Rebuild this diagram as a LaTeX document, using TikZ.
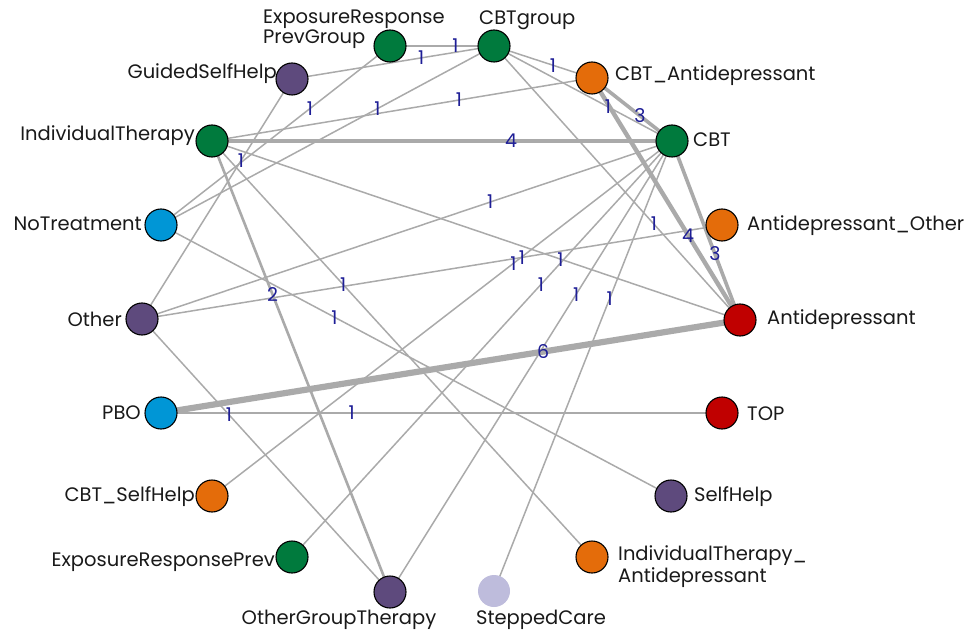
\documentclass[tikz,border=0pt]{standalone}
\usepackage{fontspec}
\setmainfont{Poppins}
\usetikzlibrary{calc,backgrounds}

\definecolor{trtgreen}{RGB}{0,122,61}
\definecolor{trtorange}{RGB}{228,108,10}
\definecolor{trtblue}{RGB}{0,150,214}
\definecolor{trtpurple}{RGB}{94,74,125}
\definecolor{trtred}{RGB}{192,0,0}
\definecolor{trtlilac}{RGB}{190,188,220}
\definecolor{linkgray}{RGB}{170,170,170}
\definecolor{countblue}{RGB}{30,30,150}
\definecolor{nametext}{RGB}{25,25,25}

\newcommand{\namesize}{\fontsize{19.5}{20}\selectfont}
\newcommand{\cntsize}{\fontsize{19}{20}\selectfont}

\begin{document}
\begin{tikzpicture}[x=1pt,y=-1pt,
  trt/.style={circle,draw=black,line width=1.1pt,minimum size=32pt,inner sep=0pt},
  link/.style={draw=linkgray,line width=1.5pt},
  w2/.style={line width=2.6pt},
  w3/.style={line width=3.6pt},
  w4/.style={line width=4.4pt},
  w6/.style={line width=6.2pt},
  cnt/.style={text=countblue,font=\cntsize,inner sep=0pt},
  tname/.style={text=nametext,font=\namesize,inner sep=0pt}]
\useasboundingbox (0,0) rectangle (968,636);

% treatments
\node[trt,fill=trtgreen]  (ERPG)  at (390,46)  {};
\node[trt,fill=trtgreen]  (CBTg)  at (494,46)  {};
\node[trt,fill=trtorange] (CBTA)  at (592,78)  {};
\node[trt,fill=trtgreen]  (CBT)   at (672,141) {};
\node[trt,fill=trtorange] (AO)    at (722,225) {};
\node[trt,fill=trtred]    (AD)    at (740,320) {};
\node[trt,fill=trtred]    (TOP)   at (722,413) {};
\node[trt,fill=trtpurple] (SH)    at (671,496) {};
\node[trt,fill=trtorange] (ITA)   at (592,557) {};
\node[trt,fill=trtlilac,draw=none] (SC) at (494,591) {};
\node[trt,fill=trtpurple] (OGT)   at (390,592) {};
\node[trt,fill=trtgreen]  (ERP)   at (292,557) {};
\node[trt,fill=trtorange] (CBTSH) at (212,496) {};
\node[trt,fill=trtblue]   (PBO)   at (161,413) {};
\node[trt,fill=trtpurple] (Other) at (142,319) {};
\node[trt,fill=trtblue]   (NT)    at (161,225) {};
\node[trt,fill=trtgreen]  (IT)    at (212,141) {};
\node[trt,fill=trtpurple] (GSH)   at (292,79)  {};

% comparisons
\begin{pgfonlayer}{background}
\draw[link] (ERPG.center) -- (CBTg.center);
\draw[link] (GSH.center) -- (CBTg.center);
\draw[link] (ERPG.center) -- (NT.center);
\draw[link] (CBTg.center) -- (NT.center);
\draw[link] (GSH.center) -- (Other.center);
\draw[link] (CBTA.center) -- (IT.center);
\draw[link,w4] (IT.center) -- (CBT.center);
\draw[link] (CBTg.center) -- (CBTA.center);
\draw[link] (CBTg.center) -- (CBT.center);
\draw[link] (CBTg.center) -- (AD.center);
\draw[link,w3] (CBTA.center) -- (CBT.center);
\draw[link,w4] (CBTA.center) -- (AD.center);
\draw[link,w3] (CBT.center) -- (AD.center);
\draw[link] (Other.center) -- (AO.center);
\draw[link] (IT.center) -- (AD.center);
\draw[link] (Other.center) -- (CBT.center);
\draw[link] (IT.center) -- (ITA.center);
\draw[link] (NT.center) -- (SH.center);
\draw[link,w2] (IT.center) -- (OGT.center);
\draw[link] (CBT.center) -- (CBTSH.center);
\draw[link] (CBT.center) -- (ERP.center);
\draw[link] (CBT.center) -- (OGT.center);
\draw[link] (CBT.center) -- (SC.center);
\draw[link,w6] (PBO.center) -- (AD.center);
\draw[link] (PBO.center) -- (TOP.center);
\draw[link] (Other.center) -- (OGT.center);
\end{pgfonlayer}

% number of studies per comparison
\node[cnt] (n1)  at ($(ERPG)!0.63!(CBTg)$) {1};
\node[cnt] (n2)  at ($(GSH)!0.64!(CBTg)$) {1};
\node[cnt] (n3)  at ($(ERPG)!0.35!(NT)$) {1};
\node[cnt] (n4)  at ($(CBTg)!0.35!(NT)$) {1};
\node[cnt] (n5)  at ($(GSH)!0.34!(Other)$) {1};
\node[cnt] (n6)  at ($(CBTA)!0.35!(IT)$) {1};
\node[cnt] (n7)  at ($(IT)!0.65!(CBT)$) {4};
\node[cnt] (n8)  at ($(CBTg)!0.6!(CBTA)$) {1};
\node[cnt] (n9)  at ($(CBTg)!0.64!(CBT)$) {1};
\node[cnt] (n10) at ($(CBTg)!0.65!(AD)$) {1};
\node[cnt] (n11) at ($(CBTA)!0.6!(CBT)$) {3};
\node[cnt] (n12) at ($(CBTA)!0.65!(AD)$) {4};
\node[cnt] (n13) at ($(CBT)!0.63!(AD)$) {3};
\node[cnt] (n14) at ($(Other)!0.655!(AO)$) {1};
\node[cnt] (n15) at ($(IT)!0.66!(AD)$) {1};
\node[cnt] (n16) at ($(Other)!0.657!(CBT)$) {1};
\node[cnt] (n17) at ($(IT)!0.345!(ITA)$) {1};
\node[cnt] (n18) at ($(NT)!0.34!(SH)$) {1};
\node[cnt] (n19) at ($(IT)!0.34!(OGT)$) {2};
\node[cnt] (n20) at ($(CBT)!0.345!(CBTSH)$) {1};
\node[cnt] (n21) at ($(CBT)!0.345!(ERP)$) {1};
\node[cnt] (n22) at ($(CBT)!0.34!(OGT)$) {1};
\node[cnt] (n23) at ($(CBT)!0.35!(SC)$) {1};
\node[cnt] (n24) at ($(PBO)!0.66!(AD)$) {6};
\node[cnt] (n25) at ($(PBO)!0.34!(TOP)$) {1};
\node[cnt] (n26) at ($(Other)!0.35!(OGT)$) {1};

% treatment names
\node[tname,anchor=north west,align=left] (tERPG) at (263,10) {ExposureResponse\\PrevGroup};
\node[tname,anchor=west] (tCBTg)  at (479,20) {CBTgroup};
\node[tname,anchor=west] (tCBTA)  at (615,76) {CBT\_Antidepressant};
\node[tname,anchor=west] (tCBT)   at (693,140) {CBT};
\node[tname,anchor=west] (tAO)    at (747,226) {Antidepressant\_Other};
\node[tname,anchor=west] (tAD)    at (767,320) {Antidepressant};
\node[tname,anchor=west] (tTOP)   at (747,414) {TOP};
\node[tname,anchor=west] (tSH)    at (694,497) {SelfHelp};
\node[tname,anchor=north west,align=left,font=\fontsize{19.5}{22}\selectfont] (tITA) at (618,545) {IndividualTherapy\_\\Antidepressant};
\node[tname] (tSC)    at (541,620) {SteppedCare};
\node[tname] (tOGT)   at (339,620) {OtherGroupTherapy};
\node[tname,anchor=east] (tERP)   at (275,562) {ExposureResponsePrev};
\node[tname,anchor=east] (tCBTSH) at (195,497) {CBT\_SelfHelp};
\node[tname,anchor=east] (tPBO)   at (141,413) {PBO};
\node[tname,anchor=east] (tOther) at (122,319) {Other};
\node[tname,anchor=east] (tNT)    at (142,224) {NoTreatment};
\node[tname,anchor=east] (tIT)    at (195,136) {IndividualTherapy};
\node[tname,anchor=east] (tGSH)   at (277,74)  {GuidedSelfHelp};
\end{tikzpicture}
\end{document}
